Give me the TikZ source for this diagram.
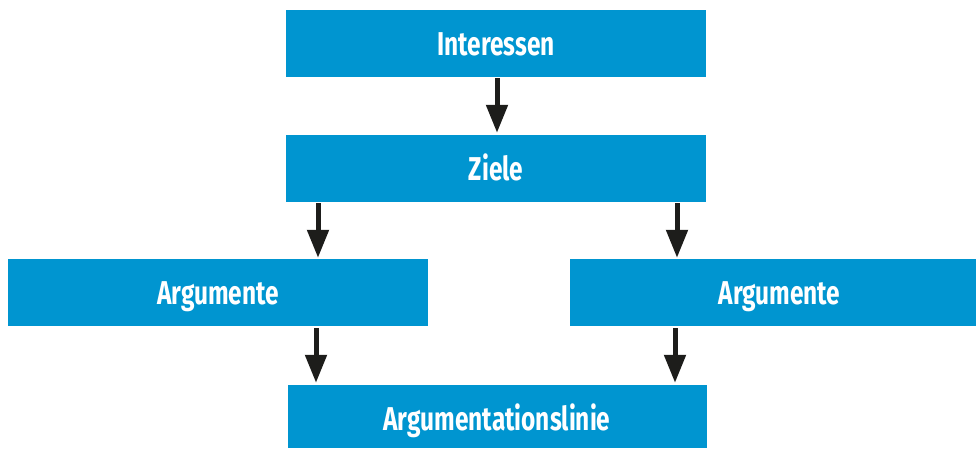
\documentclass[tikz,border=0pt]{standalone}
\usepackage{fontspec}
\usetikzlibrary{arrows.meta}
\newfontfamily\lblfont{Fira Sans}[FakeStretch=0.74]
\definecolor{boxblue}{RGB}{0,149,208}
\definecolor{arrdark}{RGB}{29,29,27}
\begin{document}
\begin{tikzpicture}[x=1pt,y=-1pt,
  box/.style={rectangle, fill=boxblue, inner sep=0pt, minimum height=67pt,
    text height=30pt, text depth=6pt,
    text=white, font=\lblfont\bfseries\fontsize{33}{35}\selectfont},
  arr/.style={draw=arrdark, line width=5pt,
    -{Triangle[width=21pt,length=28pt]}, arrdark}]
\useasboundingbox (0,0) rectangle (976,448);
\node[box, minimum width=420pt] (ints) at (496,43.5) {Interessen};
\node[box, minimum width=420pt] (ziele) at (496,168.5) {Ziele};
\node[box, minimum width=420pt] (argl) at (218,292.5) {Argumente};
\node[box, minimum width=406pt] (argr) at (773,292.5) {\hspace*{13pt}Argumente};
\node[box, minimum width=419pt, minimum height=63pt, text height=32pt, text depth=5pt] (linie) at (497,416.5) {Argumentationslinie};
\draw[arr, shorten <=1pt, shorten >=2pt] ([xshift=1pt]ints.south) -- ([xshift=1pt]ziele.north);
\draw[arr, shorten <=1pt, shorten >=1pt] ([xshift=-178pt]ziele.south) -- ([xshift=100pt]argl.north);
\draw[arr, shorten <=1pt, shorten >=1pt] ([xshift=181pt]ziele.south) -- ([xshift=-96pt]argr.north);
\draw[arr, shorten <=2pt, shorten >=2pt] ([xshift=98pt]argl.south) -- ([xshift=-181pt]linie.north);
\draw[arr, shorten <=2pt, shorten >=2pt] ([xshift=-98pt]argr.south) -- ([xshift=178pt]linie.north);
\end{tikzpicture}
\end{document}
